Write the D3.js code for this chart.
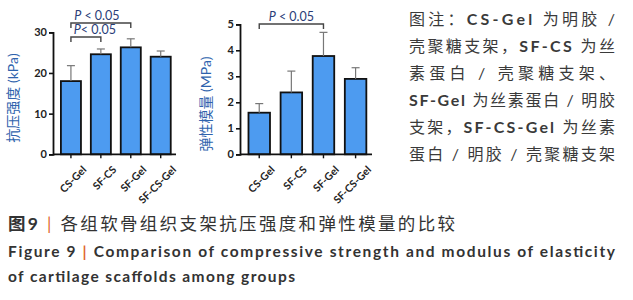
<!DOCTYPE html>
<html>
<head>
<meta charset="utf-8">
<script src="https://cdn.jsdelivr.net/npm/d3@7"></script>
<style>
  body { margin: 0; background: #fff; }
  svg { display: block; }
  text { font-family: Lato, "Noto Sans CJK SC", sans-serif; }
</style>
</head>
<body>
<svg id="fig" width="633" height="300"></svg>
<script>
// data
const groups = ["CS-Gel", "SF-CS", "SF-Gel", "SF-CS-Gel"];
const strength = [18.0, 24.6, 26.3, 24.0];      // kPa
const strengthErr = [3.8, 1.3, 2.1, 1.4];
const modulus = [1.6, 2.38, 3.78, 2.9];         // MPa
const modulusErr = [0.35, 0.82, 0.91, 0.43];
const strengthTicks = [0, 10, 20, 30];
const modulusTicks = [0, 1, 2, 3, 4, 5];

const noteLines = [
  "图注：CS-Gel 为明胶 /",
  "壳聚糖支架，SF-CS 为丝",
  "素蛋白 / 壳聚糖支架、",
  "SF-Gel 为丝素蛋白 / 明胶",
  "支架，SF-CS-Gel 为丝素",
  "蛋白 / 明胶 / 壳聚糖支架"
];

const svg = d3.select("#fig");
const barFill = "#4d9bf0";
const labelBlue = "#2f63ad";
const pBlue = "#2a3d78";

function drawChart(opt) {
  const x = d3.scaleBand().domain(groups)
      .range([opt.left, opt.right])
      .paddingInner(0.33).paddingOuter(0.22).align(0.6);
  const y = d3.scaleLinear().domain(opt.domain).range([opt.bottom, opt.top]);
  const g = svg.append("g");

  // bars
  g.selectAll("rect.bar").data(opt.values).enter().append("rect")
      .attr("class", "bar")
      .attr("x", (d, i) => x(groups[i]))
      .attr("y", d => y(d))
      .attr("width", x.bandwidth())
      .attr("height", d => y(0) - y(d))
      .attr("fill", barFill)
      .attr("stroke", "#111")
      .attr("stroke-width", 1.8);

  // error bars (upper only)
  const eb = g.selectAll("g.err").data(opt.values).enter().append("g")
      .attr("class", "err")
      .attr("transform", (d, i) => `translate(${x(groups[i]) + x.bandwidth() / 2},0)`);
  eb.append("line")
      .attr("y1", d => y(d)).attr("y2", (d, i) => y(d + opt.errs[i]))
      .attr("stroke", "#777").attr("stroke-width", 1.2);
  eb.append("line")
      .attr("x1", -4).attr("x2", 4)
      .attr("y1", (d, i) => y(d + opt.errs[i])).attr("y2", (d, i) => y(d + opt.errs[i]))
      .attr("stroke", "#777").attr("stroke-width", 1.2);

  // y axis
  const ya = g.append("g")
      .attr("transform", `translate(${opt.left},0)`)
      .call(d3.axisLeft(y).tickValues(opt.ticks).tickFormat(d3.format("d"))
            .tickSize(4).tickPadding(2));
  ya.select(".domain").attr("stroke", "#111").attr("stroke-width", 1.8);
  ya.selectAll(".tick line").attr("stroke", "#111").attr("stroke-width", 1.6);
  ya.selectAll(".tick text").attr("font-size", 11).attr("font-weight", "bold")
      .attr("fill", "#222").style("font-family", "Lato, sans-serif");

  // x axis
  const xa = g.append("g")
      .attr("transform", `translate(0,${opt.bottom})`)
      .call(d3.axisBottom(x).tickSize(4).tickSizeOuter(0).tickPadding(3));
  xa.select(".domain").attr("stroke", "#111").attr("stroke-width", 1.8)
      .attr("d", `M${opt.left},0H${opt.axisEnd}`);
  xa.selectAll(".tick line").attr("stroke", "#111").attr("stroke-width", 1.4);
  xa.selectAll(".tick text")
      .attr("font-size", 10.5).attr("fill", "#222").attr("font-weight", "bold")
      .style("font-family", "Lato, sans-serif")
      .attr("text-anchor", "end")
      .attr("transform", "translate(6,6) rotate(-45)");

  // axis title
  g.append("text")
      .attr("transform", `translate(${opt.titleX},${opt.titleY}) rotate(-90)`)
      .attr("text-anchor", "middle")
      .attr("font-size", 14)
      .attr("fill", labelBlue)
      .text(opt.title);

  // significance brackets
  opt.brackets.forEach(b => {
    const x1 = x(groups[b.from]) + x.bandwidth() / 2;
    const x2 = x(groups[b.to]) + x.bandwidth() / 2;
    g.append("path")
        .attr("d", `M${x1},${b.y + 5}V${b.y}H${x2}V${b.y + 5}`)
        .attr("fill", "none").attr("stroke", "#444").attr("stroke-width", 1.4);
    const t = g.append("text")
        .attr("x", (x1 + x2) / 2 + b.dx).attr("y", b.y - 3)
        .attr("text-anchor", "middle")
        .attr("font-size", 12.5).attr("fill", pBlue)
        .style("font-family", "Lato, sans-serif");
    t.append("tspan").attr("font-style", "italic").text("P");
    t.append("tspan").text(b.label);
  });
}

drawChart({
  values: strength, errs: strengthErr, ticks: strengthTicks, domain: [0, 30],
  left: 53, right: 176, axisEnd: 176, top: 32.3, bottom: 154.3,
  title: "抗压强度 (kPa)", titleX: 18, titleY: 98,
  brackets: [
    { from: 0, to: 2, y: 23, label: " < 0.05", dx: -4 },
    { from: 0, to: 1, y: 37, label: "< 0.05", dx: 9 }
  ]
});

drawChart({
  values: modulus, errs: modulusErr, ticks: modulusTicks, domain: [0, 5],
  left: 240, right: 372, axisEnd: 372, top: 24.3, bottom: 154.3,
  title: "弹性模量 (MPa)", titleX: 211, titleY: 104,
  brackets: [
    { from: 0, to: 2, y: 24, label: " < 0.05", dx: 0 }
  ]
});

// note block on the right, latin group names a little heavier
const notes = svg.append("g").selectAll("text").data(noteLines).enter().append("text")
    .attr("x", 409)
    .attr("y", (d, i) => 25 + i * 27)
    .attr("font-size", 16)
    .attr("fill", "#3a3a3a")
    .attr("textLength", 206)
    .attr("lengthAdjust", "spacing");
notes.each(function (d) {
  const el = d3.select(this);
  d.split(/([A-Za-z-]+)/).filter(s => s.length).forEach(s => {
    el.append("tspan")
      .attr("font-weight", /[A-Za-z]/.test(s) ? "bold" : null)
      .text(s);
  });
});

// caption
const cap = svg.append("g").attr("fill", "#333");
const c1 = cap.append("text").attr("x", 8).attr("y", 230).attr("font-size", 17.5)
    .attr("textLength", 447).attr("lengthAdjust", "spacing");
c1.append("tspan").attr("font-weight", "bold").text("图9 ");
c1.append("tspan").attr("fill", "#e0672e").text("| ");
c1.append("tspan").text("各组软骨组织支架抗压强度和弹性模量的比较");

const c2 = cap.append("text").attr("x", 8).attr("y", 257).attr("font-size", 15.5)
    .attr("font-weight", "bold").attr("textLength", 607).attr("lengthAdjust", "spacing");
c2.append("tspan").text("Figure 9 ");
c2.append("tspan").attr("fill", "#e0672e").text(" | ");
c2.append("tspan").text(" Comparison of compressive strength and modulus of elasticity");

cap.append("text").attr("x", 8).attr("y", 282).attr("font-size", 15.5)
    .attr("font-weight", "bold").attr("textLength", 287).attr("lengthAdjust", "spacing")
    .text("of cartilage scaffolds among groups");
</script>
</body>
</html>
